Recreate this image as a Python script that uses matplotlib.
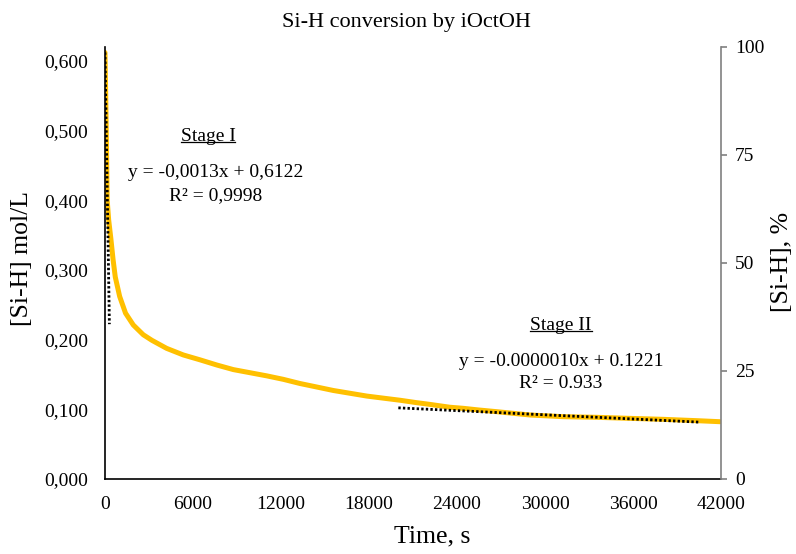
import numpy as np
import matplotlib
matplotlib.use('Agg')
import matplotlib.pyplot as plt
from matplotlib.ticker import FuncFormatter
from matplotlib.lines import Line2D

plt.rcParams['font.family'] = ['Liberation Serif', 'DejaVu Serif']

time_s = [0, 50, 100, 150, 250, 400, 550, 700, 1000, 1400, 1930, 2610, 3200,
          4200, 5340, 6480, 7620, 8750, 9890, 11030, 12160, 13300, 14440,
          15570, 16710, 17850, 18980, 20120, 21260, 22170, 23500, 24440,
          25500, 26710, 28990, 31260, 33530, 35800, 38080, 40350, 41940]
conc = [0.612, 0.550, 0.480, 0.400, 0.372, 0.345, 0.315, 0.290, 0.262, 0.238,
        0.221, 0.207, 0.199, 0.1875, 0.178, 0.171, 0.1636, 0.157, 0.1525,
        0.148, 0.143, 0.137, 0.132, 0.127, 0.123, 0.119, 0.116, 0.113,
        0.1095, 0.107, 0.103, 0.1014, 0.099, 0.0966, 0.0918, 0.0894, 0.0885,
        0.087, 0.0856, 0.0837, 0.0822]

# linear trendlines (end points)
fit1_x = [0, 300]
fit1_y = [0.6122, 0.2222]
fit2_x = [20000, 40600]
fit2_y = [0.1021, 0.0815]

xticks = np.arange(0, 42001, 6000)
yticks = np.arange(0, 0.61, 0.1)
pct_ticks = [0, 25, 50, 75, 100]

fig = plt.figure(figsize=(7.96, 5.54), dpi=100)
ax = fig.add_axes([0.1319, 0.1354, 0.7739, 0.7798])

ax.plot(time_s, conc, color='#FFC000', lw=3.6, solid_capstyle='round', zorder=2)
dots = dict(color='black', lw=2.0, ls=(0, (0.85, 0.8)), dash_capstyle='butt', zorder=3)
ax.plot(fit1_x, fit1_y, **dots)
ax.plot(fit2_x, fit2_y, **dots)

ax.set_xlim(0, 42000)
ax.set_ylim(0, 0.62)
ax.set_xticks(xticks)
ax.set_yticks(yticks)
ax.yaxis.set_major_formatter(FuncFormatter(lambda v, p: ('%.3f' % v).replace('.', ',')))
ax.tick_params(axis='both', length=0, labelsize=14, pad=12)
for s in ['top', 'right']:
    ax.spines[s].set_visible(False)
ax.spines['left'].set_linewidth(1.2)
ax.spines['bottom'].set_linewidth(1.2)

ax2 = ax.twinx()
ax2.set_ylim(0, 100)
ax2.set_yticks(pct_ticks)
for s in ['top', 'left', 'bottom']:
    ax2.spines[s].set_visible(False)
ax2.spines['right'].set_color('#808080')
ax2.spines['right'].set_linewidth(1.2)
ax2.tick_params(axis='y', direction='out', length=4, width=1.2, color='#808080',
                labelsize=14, pad=6)

# annotations
st1 = ax.text(7020, 0.491, 'Stage I', fontsize=14, ha='center', va='center')
ax.text(7550, 0.440, 'y = -0,0013x + 0,6122', fontsize=14, ha='center', va='center')
ax.text(7550, 0.407, 'R² = 0,9998', fontsize=14, ha='center', va='center')
st2 = ax.text(31090, 0.2205, 'Stage II', fontsize=14, ha='center', va='center')
ax.text(31080, 0.168, 'y = -0.0000010x + 0.1221', fontsize=14, ha='center', va='center')
ax.text(31080, 0.137, 'R² = 0.933', fontsize=14, ha='center', va='center')

fig.text(0.511, 0.959, 'Si-H conversion by iOctOH', fontsize=16, ha='center', va='center')
fig.text(0.543, 0.0325, 'Time, s', fontsize=18.5, ha='center', va='center')
fig.text(0.0276, 0.534, '[Si-H] mol/L', fontsize=18.5, rotation=90, ha='center', va='center')
fig.text(0.983, 0.527, '[Si-H], %', fontsize=18.5, rotation=90, ha='center', va='center')

# underline the stage labels
fig.canvas.draw()
r = fig.canvas.get_renderer()
for t in [st1, st2]:
    bb = t.get_window_extent(r)
    yl = bb.y0 + 3
    fig.add_artist(Line2D([bb.x0 / fig.bbox.width, bb.x1 / fig.bbox.width],
                          [yl / fig.bbox.height, yl / fig.bbox.height],
                          color='black', lw=0.9))

fig.savefig('out.png', dpi=100)
